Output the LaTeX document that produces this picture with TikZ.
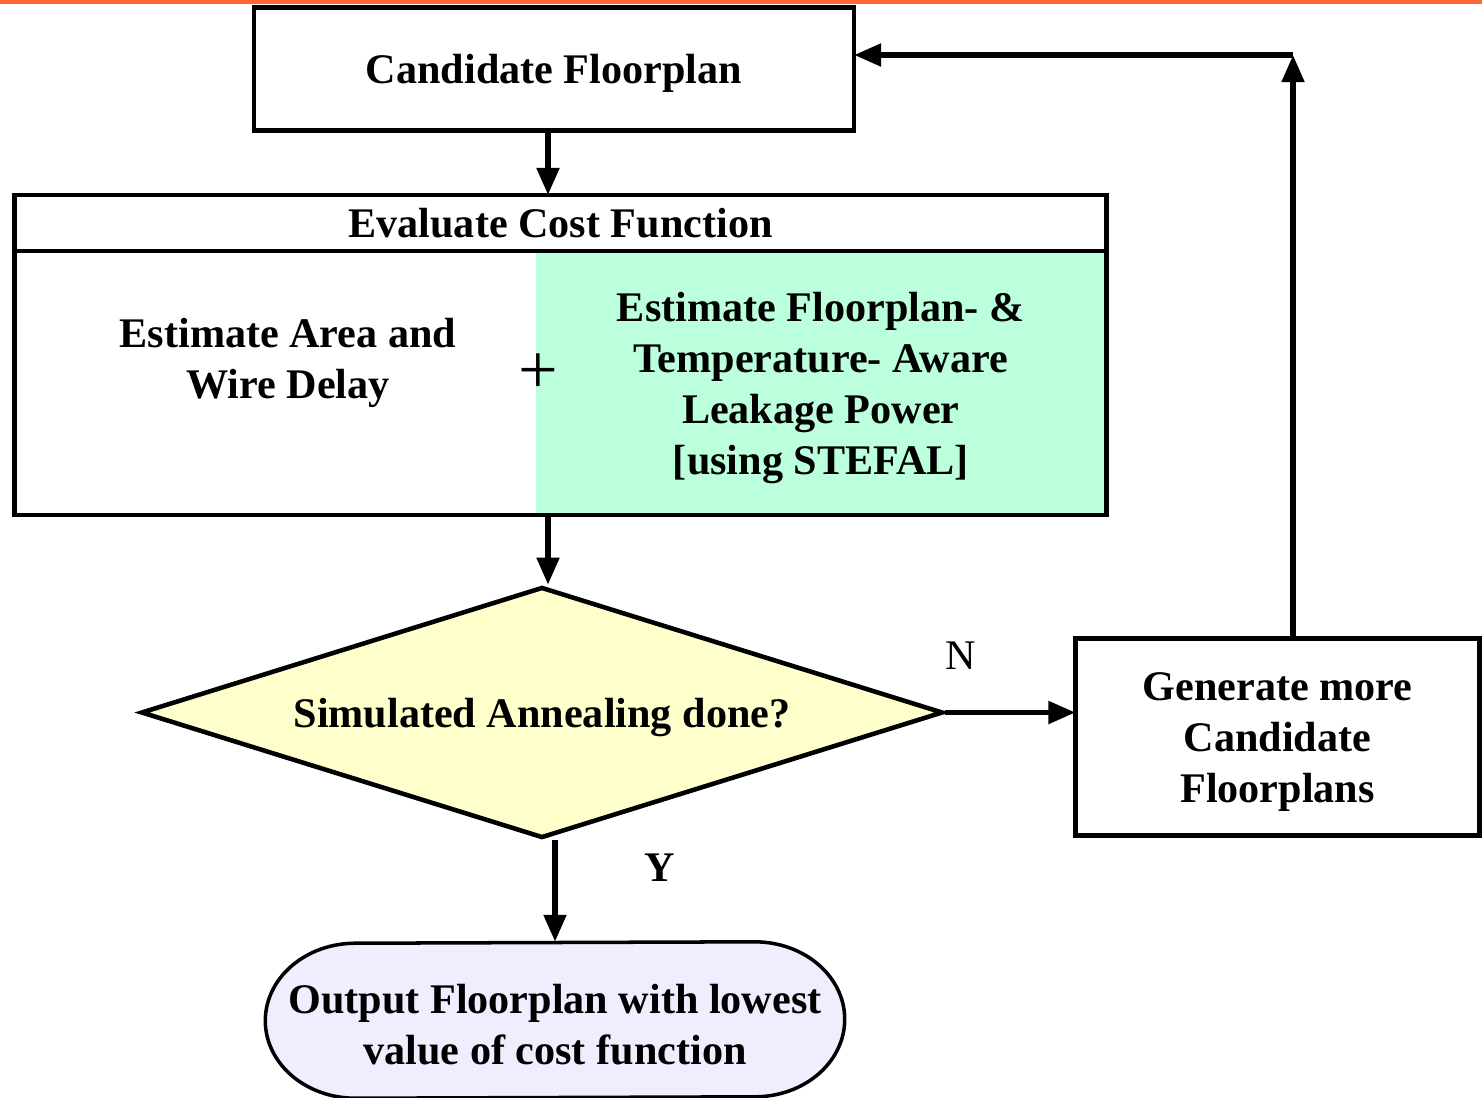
\documentclass[tikz,border=0pt]{standalone}
\usepackage{fontspec}
\setmainfont{Liberation Serif}
\definecolor{flowgreen}{RGB}{187,255,221}
\definecolor{flowyellow}{RGB}{255,255,204}
\definecolor{flowlilac}{RGB}{238,238,255}
\definecolor{floworange}{RGB}{255,102,51}
\newcommand{\topstrut}{\rule{0pt}{11pt}}
\usetikzlibrary{positioning,shapes.geometric,arrows.meta,backgrounds}

\begin{document}
\begin{tikzpicture}[every node/.style={font=\fontsize{12}{14.5}\selectfont\bfseries, align=center}]
    \tikzstyle{textdrop} = [execute at begin node={\topstrut}]
    \tikzstyle{block} = [rectangle, draw, fill=white, line width=1.4pt,
        inner sep=0pt, outer sep=0pt]
    \tikzstyle{decision} = [diamond, draw, fill=flowyellow, line width=1.3pt,
        aspect=3.2, inner sep=0pt, minimum width=8.02cm, minimum height=2.51cm, textdrop]
    \tikzstyle{terminal} = [rectangle, inner sep=0pt, minimum width=5.78cm, minimum height=1.55cm]
    \tikzstyle{arrow} = [line width=1.6pt, -{Triangle[length=7.7pt,width=6.2pt]}]

    \useasboundingbox (0,0) rectangle (14.82,-10.97);
    \fill[floworange] (0,0) rectangle (14.82,-0.04);

    \node [block, textdrop, minimum width=6.0cm, minimum height=1.23cm] (cand) at (5.54,-0.69) {Candidate Floorplan};
    \node [block, minimum width=10.92cm, minimum height=0.56cm] (evalhead) at (5.605,-2.23) {Evaluate Cost Function};
    \node [block, minimum width=10.92cm, minimum height=2.64cm, below=0pt of evalhead] (evalbody) {};
    \node [fill=flowgreen, inner sep=0pt, minimum width=5.7cm, minimum height=2.64cm,
        anchor=north east] (leak) at (evalbody.north east)
        {\topstrut Estimate Floorplan- \&\\Temperature- Aware\\Leakage Power\\{[using STEFAL]}};
    \draw [line width=1.4pt] (evalbody.north west) rectangle (evalbody.south east);
    \node (area) at (2.88,-3.58) {\topstrut Estimate Area and\\Wire Delay};
    \node [font=\fontsize{20}{20}\selectfont\mdseries, inner sep=0pt] (plus) at ([xshift=0.03cm,yshift=0.1cm]leak.west) {+};

    \node [decision] (dec) at (5.42,-7.125) {Simulated Annealing done?};
    \node [block, minimum width=4.04cm, minimum height=1.97cm] (gen) at (12.775,-7.37) {\topstrut Generate more\\Candidate\\Floorplans};
    \node [terminal] (term) at (5.55,-10.2) {\topstrut Output Floorplan with lowest\\value of cost function};
    \begin{scope}[on background layer]
        \filldraw [fill=flowlilac, line width=1pt, line join=round]
            ([xshift=-0.9cm]term.north east)
            arc [start angle=90, end angle=-90, x radius=0.9cm, y radius=0.775cm]
            -- ([xshift=0.9cm]term.south west)
            arc [start angle=270, end angle=90, x radius=0.9cm, y radius=0.775cm] -- cycle;
    \end{scope}

    \coordinate (spine) at (5.48,0);
    \coordinate (loop) at (12.93,-0.55);

    \draw [arrow] (cand.south -| spine) -- (evalhead.north -| spine);
    \draw [arrow] (evalbody.south -| spine) -- (dec.north -| spine);
    \draw [arrow] (dec.east) -- node[pos=0.12, yshift=0.57cm, font=\fontsize{12}{14.5}\selectfont\mdseries] {N} (dec.east -| gen.west);
    \draw [arrow] (dec.south -| term.north) -- node[pos=0.27, xshift=1.05cm] {Y} (term.north);
    \draw [arrow] (gen.north -| loop) -- (loop);
    \draw [arrow] (loop) -- (cand.east |- loop);
\end{tikzpicture}
\end{document}
